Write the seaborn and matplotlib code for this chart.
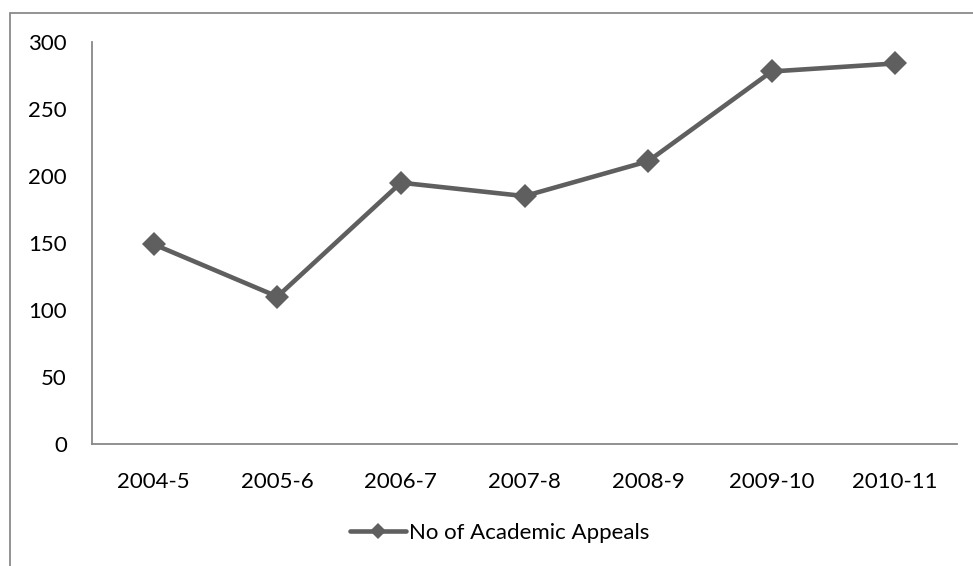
import matplotlib
matplotlib.use("Agg")
import matplotlib.pyplot as plt
import seaborn as sns
import pandas as pd
from matplotlib.patches import Rectangle

years = ["2004-5", "2005-6", "2006-7", "2007-8", "2008-9", "2009-10", "2010-11"]
appeals = [149, 110, 195, 185, 211, 278, 284]
series_name = "No of Academic Appeals"
y_ticks = [0, 50, 100, 150, 200, 250, 300]

sns.set_theme(style="white")
plt.rcParams['font.family'] = ['Lato', 'DejaVu Sans']

df = pd.DataFrame({"year": years, "value": appeals, "series": series_name})

W, H = 973, 566
fig = plt.figure(figsize=(W / 100, H / 100), dpi=100)
ax = fig.add_axes([92 / W, 1 - 444 / H, (957 - 92) / W, (444 - 42) / H])

line_color = "#5f5f5f"
sns.lineplot(data=df, x="year", y="value", hue="series", palette=[line_color],
             marker="D", markersize=12.5, linewidth=3.3, markeredgewidth=0,
             sort=False, ax=ax)

ax.set_xlim(-0.5, len(years) - 0.5)
ax.set_ylim(0, 300)
ax.set_yticks(y_ticks)
ax.set_xlabel("")
ax.set_ylabel("")
fs = 16
ax.tick_params(axis="both", length=0, labelsize=fs, colors="#000000")
ax.tick_params(axis="y", pad=18)
ax.tick_params(axis="x", pad=20)
for s in ["top", "right"]:
    ax.spines[s].set_visible(False)
for s in ["left", "bottom"]:
    ax.spines[s].set_color("#888888")
    ax.spines[s].set_linewidth(1.3)

leg = ax.legend(loc="center", bbox_to_anchor=(500 / W, 1 - 533 / H),
                bbox_transform=fig.transFigure, frameon=False, fontsize=fs,
                handlelength=2.5, handletextpad=0.15, markerscale=0.65)
for t in leg.get_texts():
    t.set_color("#000000")

fig.patches.append(Rectangle((10 / W, -0.1), 1.2, 1 - 13 / H + 0.1,
                             transform=fig.transFigure, fill=False,
                             edgecolor="#8a8a8a", linewidth=1.3))

fig.savefig("out.png", dpi=100, facecolor="white")
